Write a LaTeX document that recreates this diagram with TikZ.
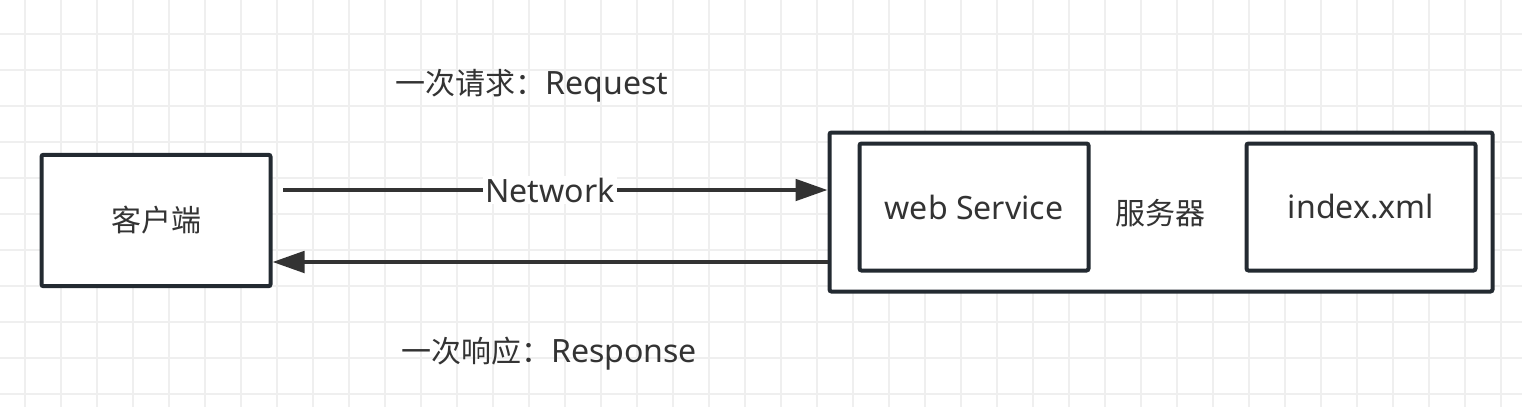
\documentclass[tikz,border=0pt]{standalone}
\usepackage{fontspec}
\setmainfont{Noto Sans}[Scale=1.07]
\newfontfamily\cjkfont{Noto Sans CJK SC}
\usepackage{tikz}
\usetikzlibrary{positioning,arrows.meta}

\definecolor{boxline}{HTML}{232A31}
\definecolor{arrowline}{HTML}{333333}
\definecolor{gridgray}{HTML}{EFEFEF}

\begin{document}
\begin{tikzpicture}[
						x=0.75pt, y=-0.75pt,
						font=\fontsize{22.5}{27}\selectfont, text=arrowline,
						% Define styles for boxes and arrows
						box style/.style={draw=boxline, line width=3pt, rounded corners=1.5pt, fill=white},
						arrow style/.style={draw=arrowline, line width=3pt, -{Triangle[length=24pt, width=16pt]}},
						grid line/.style={draw=gridgray, line width=1.5pt}
						]
						
						\useasboundingbox (0,0) rectangle (1522,407);
						\fill[white] (0,0) rectangle (1522,407);
						
						% Background grid
						\foreach \gx in {0,...,41} {
							\draw[grid line] (25+36*\gx,0) -- (25+36*\gx,407);
						}
						\foreach \gy in {1,...,11} {
							\draw[grid line] (0,-2+36*\gy) -- (1522,-2+36*\gy);
						}
						
						% Define and place your nodes
						\node[box style, minimum width=171.75pt, minimum height=98.6pt] (client) at (156,220.5) {\cjkfont 客户端};
						\node[box style, minimum width=497.25pt, minimum height=119.25pt] (server) at (1161,212) {};
						\node (serverlabel) at (1160,213) {\cjkfont 服务器};
						\node[box style, minimum width=171.75pt, minimum height=95.25pt] (web) at (974,207) {web Service};
						\node[box style, minimum width=171.75pt, minimum height=95.25pt] (index) at (1361,207) {index.xml};
						
						\node (request) at (532,86) {{\cjkfont 一次请求：}Request};
						\node (response) at (549,354) {{\cjkfont 一次响应：}Response};
						
						% --- Draw the edges ---
						\draw[arrow style, shorten <=8pt] (client.east |- 0,190) -- node[fill=white, inner sep=1.5pt] {Network} (server.west |- 0,190);
						\draw[arrow style] (server.west |- 0,262) -- (client.east |- 0,262);
					\end{tikzpicture}
\end{document}
